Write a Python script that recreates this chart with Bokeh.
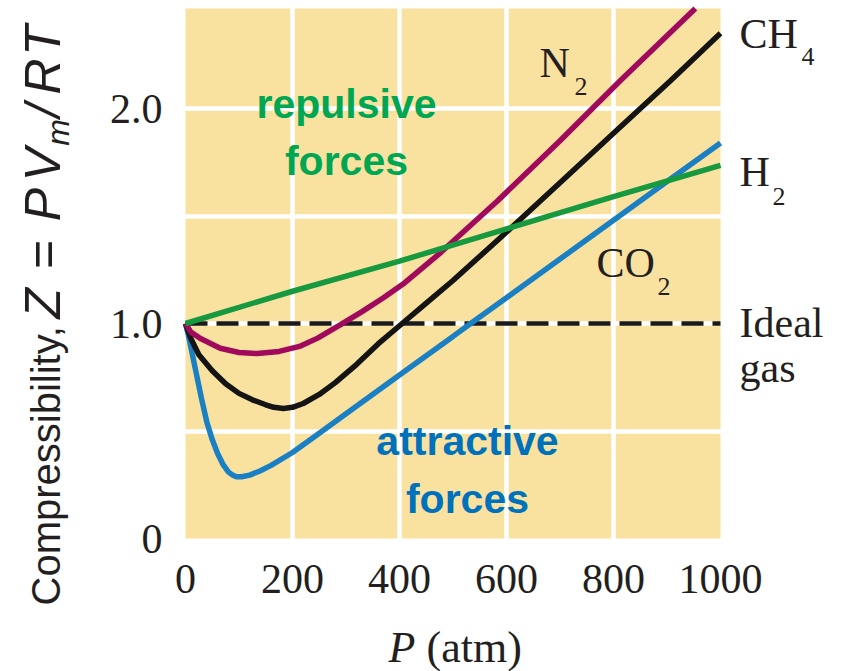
import math
from bokeh.plotting import figure
from bokeh.models import Label, FixedTicker, Range1d, BoxAnnotation
from bokeh.embed import file_html
from bokeh.resources import INLINE

# ---------------- data ----------------
p_ideal = [0, 1000]
z_ideal = [1.0, 1.0]

p_h2 = [0, 200, 400, 600, 800, 1000]
z_h2 = [1.0, 1.15, 1.29, 1.44, 1.59, 1.735]

p_n2 = [0, 10, 28, 65, 100, 134, 175, 215, 247, 290, 330, 370, 410, 477, 583, 700, 813, 953]
z_n2 = [1.0, 0.96, 0.93, 0.885, 0.865, 0.86, 0.87, 0.895, 0.932, 0.995, 1.055, 1.12, 1.19, 1.33, 1.57, 1.85, 2.13, 2.465]

p_ch4 = [0, 10, 25, 50, 75, 100, 125, 150, 165, 183, 200, 220, 250, 280, 320, 360, 405, 450, 500, 589, 700, 800, 907, 1000]
z_ch4 = [1.0, 0.93, 0.855, 0.78, 0.72, 0.675, 0.645, 0.622, 0.61, 0.605, 0.61, 0.628, 0.67, 0.725, 0.81, 0.905, 1.0, 1.095, 1.2, 1.40, 1.655, 1.885, 2.13, 2.35]

p_co2 = [0, 5, 10, 20, 30, 40, 50, 60, 70, 80, 88, 95, 105, 120, 140, 160, 200, 250, 300, 400, 500, 533, 600, 700, 800, 900, 1000]
z_co2 = [1.0, 0.95, 0.89, 0.77, 0.65, 0.54, 0.46, 0.395, 0.345, 0.31, 0.295, 0.287, 0.287, 0.295, 0.315, 0.34, 0.40, 0.49, 0.58, 0.76, 0.94, 1.0, 1.12, 1.30, 1.48, 1.66, 1.84]

x_ticks = [0, 200, 400, 600, 800, 1000]
y_ticks = [0, 1.0, 2.0]
y_tick_labels = {0: "0", 1: "1.0", 2: "2.0"}
p_area = (0, 1000)        # pressure span of the shaded plot area
z_area = (0, 2.465)       # Z span of the shaded plot area

# ---------------- figure ----------------
W, H = 851, 671
FL, FB = 185, 538                   # canvas px of P=0 and Z=0
XS = 535 / 1000.0                   # px per atm
YS = 215.0                          # px per unit of Z
p = figure(width=W, height=H, output_backend="svg", toolbar_location=None,
           x_range=Range1d(-FL / XS, (W - FL) / XS),
           y_range=Range1d(-(H - FB) / YS, FB / YS))
p.min_border_left = 0
p.min_border_right = 0
p.min_border_top = 0
p.min_border_bottom = 0
p.outline_line_color = None
p.background_fill_color = "white"
p.border_fill_color = "white"

p.add_layout(BoxAnnotation(left=p_area[0], right=p_area[1], bottom=z_area[0], top=z_area[1],
                           fill_color="#F9E1A0", fill_alpha=1.0, line_color=None, level="image"))

for ax in (p.xaxis, p.yaxis):
    ax.fixed_location = 0
    ax.axis_line_color = None
    ax.major_tick_line_color = None
    ax.minor_tick_line_color = None
    ax.major_label_text_font = "Liberation Serif"
    ax.major_label_text_font_size = "42px"
    ax.major_label_text_color = "#231F20"
p.xaxis.ticker = FixedTicker(ticks=x_ticks)
p.yaxis.ticker = FixedTicker(ticks=y_ticks)
p.yaxis.major_label_overrides = y_tick_labels
p.xaxis.major_label_standoff = 20
p.yaxis.major_label_standoff = 17

p.xgrid.ticker = FixedTicker(ticks=[200, 400, 600, 800])
p.ygrid.ticker = FixedTicker(ticks=[0.5, 1.0, 1.5, 2.0])
for g in (p.xgrid, p.ygrid):
    g.grid_line_color = "white"
    g.grid_line_width = 4.5
    g.grid_line_alpha = 1.0

# ---------------- curves ----------------
p.line(p_ideal, z_ideal, line_color="#1A1A1A", line_width=4.5, line_dash="22 9")
p.line(p_co2, z_co2, line_color="#1B80C3", line_width=5.5)
p.line(p_ch4, z_ch4, line_color="#141414", line_width=5.5)
p.line(p_n2, z_n2, line_color="#A0095C", line_width=5.5)
p.line(p_h2, z_h2, line_color="#16993F", line_width=5.5)

# ---------------- annotations ----------------
def at(px, py):
    # canvas pixel -> data coordinates
    return ((px - FL) / XS, (FB - py) / YS)

def lab(text, px, py, size=42, font="Liberation Serif", style="normal",
        color="#231F20", align="left", angle=0.0):
    # (px, py): wanted anchor on the text's baseline, canvas px
    off = 0.36 * size            # measured offset of the rendered baseline
    if angle == 0.0:
        py = py - off
    else:
        px = px - off
    x, y = at(px, py)
    p.add_layout(Label(x=x, y=y, text=text, text_font=font, text_font_size=f"{size}px",
                       text_font_style=style, text_color=color, text_align=align,
                       text_baseline="alphabetic", angle=angle))

SUB = 26
lab("N", 539, 78)
lab("2", 574, 95, size=SUB)
lab("CO", 596, 278)
lab("2", 657, 295, size=SUB)
lab("CH", 739, 49)
lab("4", 801, 65, size=SUB)
lab("H", 739, 187)
lab("2", 772, 205, size=SUB)
lab("Ideal", 739, 338)
lab("gas", 739, 383)

GREEN_T = "#00A651"
BLUE_T = "#0072BC"
lab("repulsive", 346, 118, size=41, font="Liberation Sans", style="bold", color=GREEN_T, align="center")
lab("forces", 346, 175, size=41, font="Liberation Sans", style="bold", color=GREEN_T, align="center")
lab("attractive", 467, 455, size=41, font="Liberation Sans", style="bold", color=BLUE_T, align="center")
lab("forces", 467, 513, size=41, font="Liberation Sans", style="bold", color=BLUE_T, align="center")

# x axis title: P (atm)
lab("P", 388, 663, size=44, style="italic")
lab("(atm)", 426, 663, size=44)

# y axis title, rotated (reads bottom to top)
A = math.pi / 2
YF = "Liberation Sans"
BX = 60
lab("Compressibility,", BX, 605, size=40, font=YF, angle=A)
for ch, cy, st in [("Z", 303, "italic"), ("=", 254, "normal"), ("P", 204, "italic"),
                   ("V", 164, "italic"), ("/", 110, "italic"), ("R", 76, "italic"),
                   ("T", 40, "italic")]:
    lab(ch, BX, cy, size=50, font=YF, style=st, angle=A, align="center")
lab("m", BX + 9, 132, size=32, font=YF, style="italic", angle=A, align="center")

open("out.html", "w").write(file_html(p, INLINE))
